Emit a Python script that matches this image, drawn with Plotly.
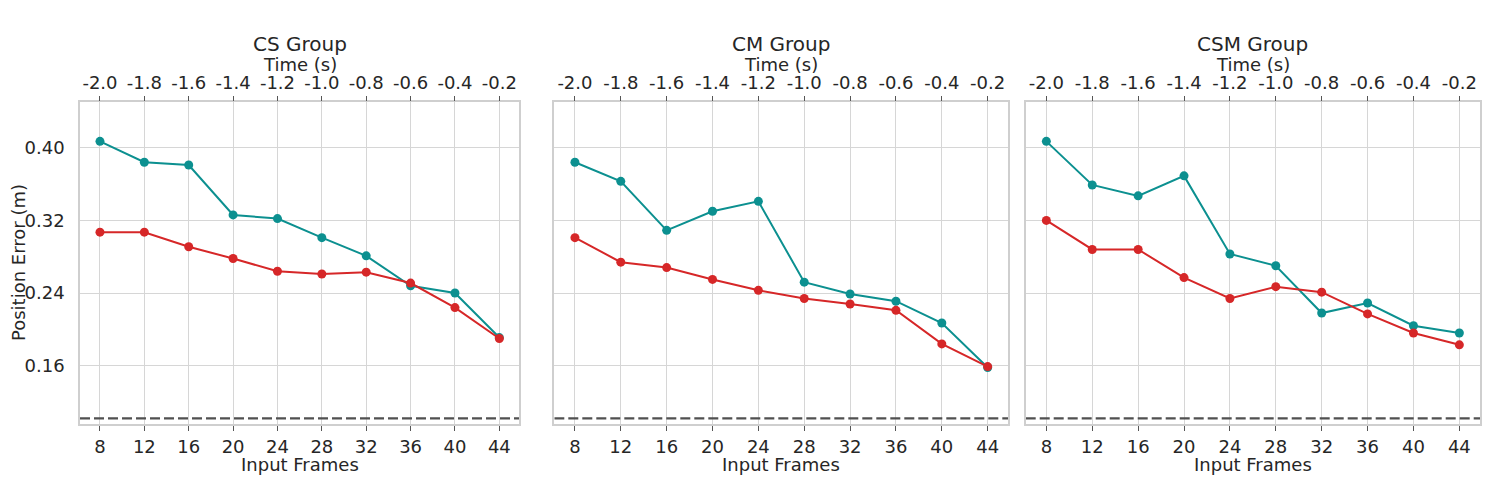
import plotly.graph_objects as go

frames = [8, 12, 16, 20, 24, 28, 32, 36, 40, 44]
times = [-2.0, -1.8, -1.6, -1.4, -1.2, -1.0, -0.8, -0.6, -0.4, -0.2]
time_labels = [f"{t:.1f}" for t in times]
groups = ["CS Group", "CM Group", "CSM Group"]

teal_cs = [0.407, 0.384, 0.381, 0.326, 0.322, 0.301, 0.281, 0.248, 0.240, 0.191]
red_cs = [0.307, 0.307, 0.291, 0.278, 0.264, 0.261, 0.263, 0.251, 0.224, 0.190]
teal_cm = [0.384, 0.363, 0.309, 0.330, 0.341, 0.252, 0.239, 0.231, 0.207, 0.158]
red_cm = [0.301, 0.274, 0.268, 0.255, 0.243, 0.234, 0.228, 0.221, 0.184, 0.159]
teal_csm = [0.407, 0.359, 0.347, 0.369, 0.283, 0.270, 0.218, 0.229, 0.204, 0.196]
red_csm = [0.320, 0.288, 0.288, 0.257, 0.234, 0.247, 0.241, 0.217, 0.196, 0.183]
baseline = 0.102

teal_series = [teal_cs, teal_cm, teal_csm]
red_series = [red_cs, red_cm, red_csm]
yticks = [0.16, 0.24, 0.32, 0.40]

TEAL = "#0c9090"
RED = "#d62728"
TXT = "#262626"
GRID = "#d6d6d6"
FONT = "DejaVu Sans"

OFF = 8  # page body margin
W, H = 1495 - OFF, 498 - OFF


def px(x):
    return (x - OFF) / W


def py(y):
    return 1 - (y - OFF) / H


px_dom = [(80, 519.3), (554.3, 1008.3), (1025.7, 1480)]
ydom = [py(424.3), py(102.3)]
xr = [6.2, 45.8]
yr = [0.0955, 0.45]

fig = go.Figure()
layout = dict(
    width=W, height=H, paper_bgcolor="white", plot_bgcolor="white",
    margin=dict(l=0, r=0, t=0, b=0, autoexpand=False), showlegend=False,
    font=dict(family=FONT, size=18, color=TXT),
)
annotations = []

for i in range(3):
    xb = f"x{2*i+1}"
    xt = f"x{2*i+2}"
    ya = f"y{i+1}"
    dom = [px(px_dom[i][0]), px(px_dom[i][1])]
    kb = "xaxis" if i == 0 else f"xaxis{2*i+1}"
    kt = f"xaxis{2*i+2}"
    ky = "yaxis" if i == 0 else f"yaxis{i+1}"
    layout[kb] = dict(
        domain=dom, range=xr, anchor=ya, tickvals=frames, ticks="outside",
        ticklen=5, tickcolor="#555555", tickwidth=1, showgrid=True, gridcolor=GRID,
        gridwidth=1, showline=True, linecolor="#cfcfcf", linewidth=1.5, mirror=True,
        zeroline=False, tickfont=dict(size=18, color=TXT), tickangle=0,
        automargin=False,
    )
    layout[kt] = dict(
        overlaying=xb, side="top", anchor=ya,
        range=[(xr[0] - 48) / 20, (xr[1] - 48) / 20],
        tickvals=times, ticktext=time_labels, ticks="outside", ticklen=5,
        tickcolor="#555555", tickwidth=1, showgrid=False, showline=False,
        zeroline=False, tickfont=dict(size=18, color=TXT), tickangle=0,
        automargin=False,
    )
    layout[ky] = dict(
        domain=ydom, range=yr, anchor=xb, tickvals=yticks, tickformat=".2f",
        showticklabels=(i == 0), ticks="", showgrid=True, gridcolor=GRID,
        gridwidth=1, showline=True, linecolor="#cfcfcf", linewidth=1.5,
        mirror=True, zeroline=False, tickfont=dict(size=18, color=TXT),
        ticklabelstandoff=10, automargin=False,
    )
    # invisible trace to activate top axis
    fig.add_trace(go.Scatter(x=times, y=teal_series[i], xaxis=xt, yaxis=ya,
                             mode="markers", marker=dict(opacity=0),
                             hoverinfo="skip"))
    # baseline
    fig.add_trace(go.Scatter(x=xr, y=[baseline, baseline], xaxis=xb, yaxis=ya,
                             mode="lines", line=dict(color="#505050", width=2.2,
                                                     dash="10px,4px"),
                             hoverinfo="skip"))
    fig.add_trace(go.Scatter(x=frames, y=teal_series[i], xaxis=xb, yaxis=ya,
                             mode="lines+markers", line=dict(color=TEAL, width=2),
                             marker=dict(size=9, color=TEAL, line=dict(width=0))))
    fig.add_trace(go.Scatter(x=frames, y=red_series[i], xaxis=xb, yaxis=ya,
                             mode="lines+markers", line=dict(color=RED, width=2),
                             marker=dict(size=9, color=RED, line=dict(width=0))))
    cx = (dom[0] + dom[1]) / 2
    annotations.append(dict(text=groups[i], x=cx, y=py(44), xref="paper",
                            yref="paper", showarrow=False, xanchor="center",
                            yanchor="middle", font=dict(size=20, color=TXT)))
    annotations.append(dict(text="Time (s)", x=cx, y=py(65), xref="paper",
                            yref="paper", showarrow=False, xanchor="center",
                            yanchor="middle", font=dict(size=18, color=TXT)))
    annotations.append(dict(text="Input Frames", x=cx, y=py(464), xref="paper",
                            yref="paper", showarrow=False, xanchor="center",
                            yanchor="middle", font=dict(size=18, color=TXT)))

annotations.append(dict(text="Position Error (m)", x=px(18), y=py(263),
                        xref="paper", yref="paper", showarrow=False, textangle=-90,
                        xanchor="center", yanchor="middle",
                        font=dict(size=18, color=TXT)))
layout["annotations"] = annotations
fig.update_layout(**layout)
fig.write_html("out.html")
